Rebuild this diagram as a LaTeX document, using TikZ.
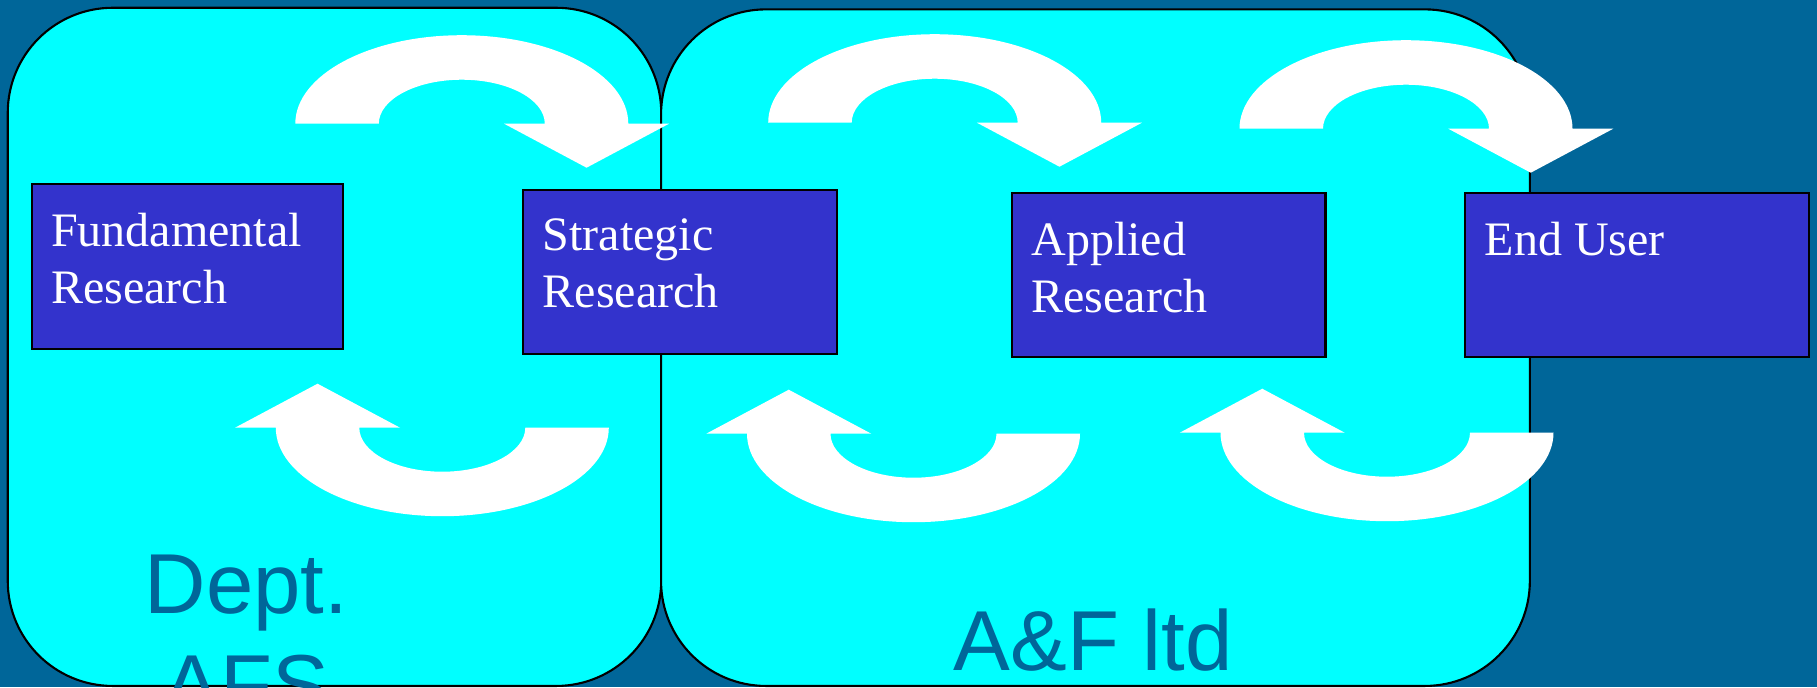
\documentclass[tikz,border=0pt]{standalone}
\usepackage{fontspec}
\setmainfont{Liberation Serif}
\newfontfamily\arialfont{Liberation Sans}
\usetikzlibrary{positioning}
\definecolor{bgblue}{HTML}{006699}
\definecolor{orgcyan}{HTML}{00FFFF}
\definecolor{resblue}{HTML}{3333CC}

\begin{document}
\begin{tikzpicture}[x=0.01cm, y=-0.01cm,
        org/.style={draw=black, line width=0.6pt, fill=orgcyan, rounded corners=1.05cm, anchor=north west, inner sep=0pt},
        res/.style={draw=black, line width=0.6pt, fill=resblue, anchor=north west, inner sep=0pt, minimum height=1.645cm},
        restext/.style={text=white, align=left, inner sep=0pt, font=\fontsize{13.66pt}{16.3pt}\selectfont, execute at begin node={\rule{0pt}{9.6pt}}},
        orgtext/.style={text=bgblue, align=center, inner sep=0pt, font=\arialfont\fontsize{24.2pt}{28.65pt}\selectfont, execute at begin node={\rule{0pt}{18.2pt}}}]
    \clip (0,0) rectangle (1817,687);
    \fill[bgblue] (0,0) rectangle (1817,687);

    \node[org, minimum width=6.531cm, minimum height=6.778cm] (afs) at (6.7,6.7) {};
    \node[org, minimum width=8.683cm, minimum height=6.762cm] (afltd) at (660,8.3) {};

    \foreach \cx/\by in {461.8/123.7, 934.7/122.7, 1406/128.7}
        \fill[white] (\cx-166.5,\by) arc[start angle=180, end angle=360, x radius=166.5, y radius=88.5]
            -- (\cx+207.25,\by) -- (\cx+124.75,\by+44) -- (\cx+42.25,\by) -- (\cx+83,\by)
            arc[start angle=360, end angle=180, x radius=83, y radius=44] -- cycle;
    \foreach \cx/\by in {442.3/427.7, 913.5/433.7, 1387/432.7}
        \fill[white] (\cx+166.5,\by) arc[start angle=0, end angle=180, x radius=166.5, y radius=88.5]
            -- (\cx-207.25,\by) -- (\cx-124.75,\by-44) -- (\cx-42.25,\by) -- (\cx-83,\by)
            arc[start angle=180, end angle=0, x radius=83, y radius=44] -- cycle;

    \node[res, minimum width=3.11cm] (fund) at (30.7,183.3) {};
    \node[res, minimum width=3.134cm] (strat) at (522.3,188.7) {};
    \node[res, minimum width=3.133cm] (appl) at (1011,191.7) {};
    \node[res, minimum width=3.437cm] (user) at (1464.3,191.7) {};

    \node[restext, below right=2.93mm and 1.97mm of fund.north west] (fundtxt) {Fundamental\\Research};
    \node[restext, below right=2.93mm and 1.97mm of strat.north west] (strattxt) {Strategic\\Research};
    \node[restext, below right=2.93mm and 1.97mm of appl.north west] (appltxt) {Applied\\Research};
    \node[restext, below right=2.93mm and 1.97mm of user.north west] (usertxt) {End User};

    \node[orgtext, anchor=north] (afstxt) at (246.3,554) {Dept.\\AFS};
    \node[orgtext, anchor=base] (afltdtxt) at (1093,670.7) {A\&F ltd};
\end{tikzpicture}
\end{document}
